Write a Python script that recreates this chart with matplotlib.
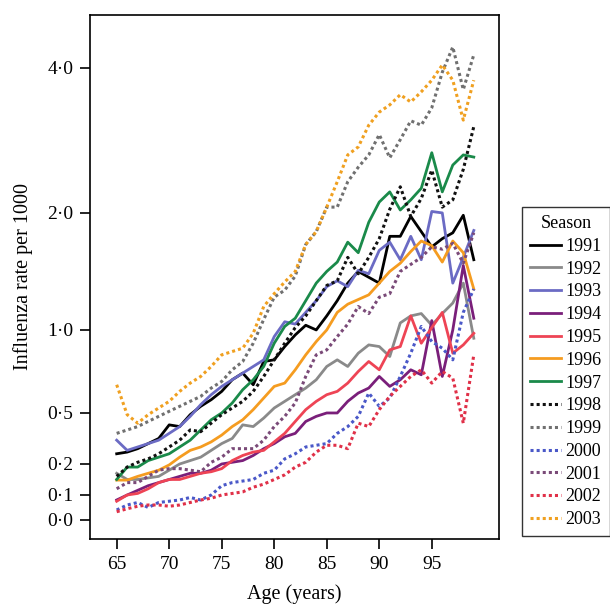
import numpy as np
import matplotlib
matplotlib.use("Agg")
import matplotlib.pyplot as plt

ages = list(range(65, 100))

s1991 = [0.26,0.27,0.29,0.32,0.35,0.43,0.42,0.49,0.54,0.58,0.63,0.70,0.74,0.67,0.81,0.82,0.90,0.97,
         1.04,1.00,1.12,1.25,1.40,1.50,1.45,1.40,1.80,1.80,1.97,1.84,1.71,1.78,1.83,1.98,1.60]
s1992 = [0.17,0.15,0.15,0.155,0.16,0.18,0.20,0.22,0.24,0.28,0.32,0.35,0.43,0.42,0.47,0.53,0.57,0.61,
         0.65,0.70,0.78,0.82,0.78,0.86,0.91,0.90,0.84,1.06,1.12,1.14,1.04,1.14,1.23,1.40,0.95]
s1993 = [0.34,0.28,0.30,0.32,0.34,0.38,0.42,0.48,0.55,0.61,0.66,0.70,0.74,0.78,0.82,0.96,1.07,1.05,
         1.15,1.25,1.37,1.42,1.37,1.51,1.48,1.68,1.75,1.60,1.80,1.60,2.02,2.00,1.40,1.62,1.85]
s1994 = [0.08,0.10,0.115,0.13,0.14,0.15,0.16,0.17,0.17,0.18,0.20,0.21,0.22,0.25,0.29,0.32,0.36,0.38,
         0.45,0.48,0.50,0.50,0.57,0.62,0.65,0.72,0.66,0.70,0.76,0.73,1.08,0.72,1.00,1.55,1.10]
s1995 = [0.075,0.10,0.105,0.12,0.14,0.15,0.15,0.16,0.17,0.175,0.185,0.22,0.25,0.27,0.28,0.33,0.38,0.45,
         0.52,0.57,0.61,0.63,0.68,0.75,0.81,0.76,0.88,0.90,1.12,0.92,1.02,1.15,0.86,0.91,0.98]
s1996 = [0.148,0.148,0.16,0.17,0.18,0.197,0.24,0.28,0.30,0.33,0.37,0.42,0.46,0.52,0.59,0.66,0.68,0.76,
         0.85,0.93,1.00,1.15,1.22,1.26,1.30,1.40,1.50,1.57,1.67,1.76,1.72,1.58,1.76,1.66,1.35]
s1997 = [0.15,0.19,0.19,0.22,0.24,0.26,0.30,0.34,0.40,0.46,0.50,0.56,0.64,0.70,0.78,0.92,1.03,1.10,
         1.25,1.40,1.50,1.58,1.75,1.66,1.92,2.15,2.29,2.04,2.18,2.34,2.83,2.29,2.66,2.80,2.77]
s1998 = [0.16,0.19,0.21,0.23,0.26,0.30,0.34,0.40,0.39,0.44,0.49,0.53,0.57,0.63,0.72,0.82,0.92,1.02,
         1.12,1.25,1.38,1.42,1.62,1.48,1.62,1.78,2.05,2.36,1.97,2.20,2.59,2.08,2.18,2.60,3.19]
s1999 = [0.38,0.40,0.42,0.45,0.48,0.51,0.54,0.57,0.60,0.65,0.69,0.76,0.81,0.92,1.09,1.28,1.34,1.46,
         1.73,1.84,2.08,2.08,2.43,2.63,2.80,3.08,2.76,3.01,3.27,3.21,3.45,3.94,4.43,3.70,4.27]
s2000 = [0.04,0.06,0.07,0.05,0.07,0.075,0.08,0.09,0.08,0.10,0.13,0.14,0.145,0.15,0.17,0.18,0.23,0.26,
         0.30,0.31,0.32,0.38,0.42,0.48,0.62,0.54,0.59,0.72,0.86,1.03,0.93,0.89,0.82,1.15,1.35]
s2001 = [0.12,0.14,0.14,0.16,0.18,0.185,0.185,0.18,0.175,0.21,0.24,0.29,0.29,0.29,0.34,0.42,0.48,0.56,
         0.72,0.85,0.88,0.96,1.05,1.20,1.14,1.28,1.31,1.50,1.56,1.62,1.71,1.69,1.74,1.57,1.83]
s2002 = [0.033,0.045,0.055,0.06,0.06,0.055,0.06,0.07,0.08,0.087,0.10,0.105,0.11,0.125,0.135,0.15,0.165,0.19,
         0.21,0.27,0.31,0.31,0.29,0.44,0.42,0.52,0.60,0.66,0.72,0.76,0.68,0.75,0.71,0.44,0.85]
s2003 = [0.67,0.49,0.44,0.49,0.53,0.57,0.63,0.68,0.72,0.78,0.85,0.87,0.89,0.98,1.20,1.31,1.41,1.50,
         1.73,1.84,2.08,2.43,2.80,2.91,3.21,3.39,3.49,3.63,3.53,3.67,3.83,4.06,3.83,3.28,3.83]

seasons = ["1991","1992","1993","1994","1995","1996","1997",
           "1998","1999","2000","2001","2002","2003"]
series = [s1991,s1992,s1993,s1994,s1995,s1996,s1997,
          s1998,s1999,s2000,s2001,s2002,s2003]
colors = ["#000000","#8a8a8a","#6b6bc4","#7a1f7a","#ee4455","#f59c20","#1a8a4a",
          "#111111","#707070","#4a58c8","#7a4a78","#e03048","#f0a020"]
solid = [True]*7 + [False]*6

ytick_vals = [0.0, 0.1, 0.2, 0.5, 1.0, 2.0, 4.0]
ytick_labels = ["0\u00b70","0\u00b71","0\u00b72","0\u00b75","1\u00b70","2\u00b70","4\u00b70"]
xtick_vals = [65, 70, 75, 80, 85, 90, 95]

# custom axis transform following the tick spacing of the original
kv = np.array([-1.0, 0.0, 0.1, 0.2, 0.5, 1.0, 2.0, 4.0, 10.0])
kp = np.array([-250.0, 0.0, 25.0, 56.0, 107.0, 190.0, 307.0, 452.0, 743.0])

def fwd(y):
    return np.interp(np.asarray(y, dtype=float), kv, kp)

def inv(p):
    return np.interp(np.asarray(p, dtype=float), kp, kv)

plt.rcParams['font.family'] = ['Liberation Serif', 'DejaVu Serif']

fig = plt.figure(figsize=(6.10, 6.07), dpi=100)
ax = fig.add_axes([90/610, 1-539/607, (499-90)/610, (539-15)/607])
ax.set_yscale('function', functions=(fwd, inv))

for name, vals, c, s in zip(seasons, series, colors, solid):
    if s:
        ax.plot(ages, vals, color=c, lw=2.0, ls='-', label=name)
    else:
        ax.plot(ages, vals, color=c, lw=2.2, ls=(0, (1, 1)), label=name)

ax.set_xlim(62.46, 101.4)
ax.set_ylim(-0.076, 5.09)
ax.set_yticks(ytick_vals)
ax.set_yticklabels(ytick_labels)
ax.yaxis.set_minor_locator(matplotlib.ticker.NullLocator())
ax.set_xticks(xtick_vals)
ax.set_xticklabels([str(v) for v in xtick_vals])
ax.tick_params(direction='out', length=7, width=1.2, labelsize=14)
ax.tick_params(axis='x', pad=5)
ax.tick_params(axis='y', pad=5)
for sp in ax.spines.values():
    sp.set_linewidth(1.2)
ax.set_xlabel("Age (years)", fontsize=14.5, labelpad=8)
ax.set_ylabel("Influenza rate per 1000", fontsize=14.5, labelpad=10)

leg = fig.legend(loc='upper left', bbox_to_anchor=(522/610, 1-207/607),
                 title="Season", fontsize=13, title_fontsize=13,
                 frameon=True, fancybox=False, edgecolor='black',
                 handlelength=1.7, handletextpad=0.25, labelspacing=0.32,
                 borderpad=0.45, borderaxespad=0)
leg.get_frame().set_linewidth(1.0)

fig.savefig("out.png", dpi=100)
